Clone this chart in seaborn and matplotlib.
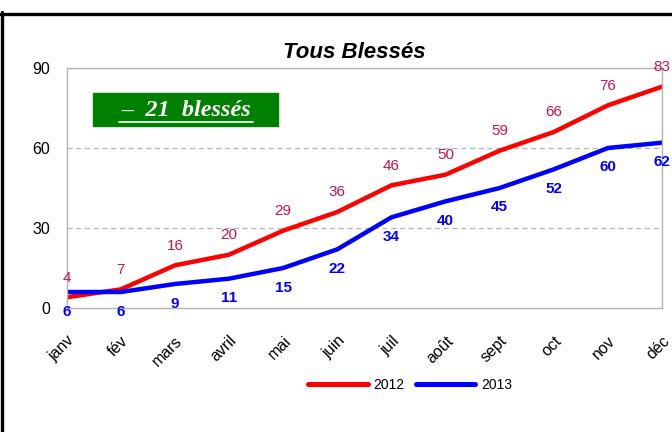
import pandas as pd
import seaborn as sns
import matplotlib.pyplot as plt
from matplotlib.lines import Line2D
from matplotlib.patches import Rectangle

# data
mois = ['janv', 'fév', 'mars', 'avril', 'mai', 'juin', 'juil', 'août', 'sept', 'oct', 'nov', 'déc']
blesses_2012 = [4, 7, 16, 20, 29, 36, 46, 50, 59, 66, 76, 83]
blesses_2013 = [6, 6, 9, 11, 15, 22, 34, 40, 45, 52, 60, 62]
annees = ['2012', '2013']
couleurs = ['#ff0000', '#0000ff']
yticks = [0, 30, 60, 90]

df = pd.DataFrame({
    'mois': list(range(len(mois))) * 2,
    'valeur': blesses_2012 + blesses_2013,
    'annee': [annees[0]] * len(mois) + [annees[1]] * len(mois),
})

sns.set_style('white')
plt.rcParams['font.family'] = ['Liberation Sans', 'DejaVu Sans']
plt.rcParams['text.color'] = 'black'
plt.rcParams['xtick.labelcolor'] = 'black'
plt.rcParams['ytick.labelcolor'] = 'black'

fig = plt.figure(figsize=(6.72, 4.32), dpi=100)
ax = fig.add_axes([66.7 / 672, 1 - 308 / 432, (662 - 66.7) / 672, 240 / 432])

sns.lineplot(data=df, x='mois', y='valeur', hue='annee', palette=couleurs,
             linewidth=3.2, ax=ax, legend=False)

ax.set_xlim(0, len(mois) - 1)
ax.set_ylim(0, 90)
ax.set_yticks(yticks)
ax.set_xticks(range(len(mois)))
ax.set_xticklabels(mois, rotation=45, ha='right', rotation_mode='anchor', fontsize=11.5)
ax.tick_params(axis='y', labelsize=11.5, length=8, color='#b3b3b3', pad=4)
ax.tick_params(axis='x', length=8, color='#b3b3b3', pad=10)
ax.set_xlabel('')
ax.set_ylabel('')
for v in yticks[1:-1]:
    ax.axhline(v, color='#b3b3b3', lw=0.9, ls=(0, (4, 3)), zorder=0)
for s in ax.spines.values():
    s.set_color('#b3b3b3')
    s.set_linewidth(1.0)

# value labels
for i, v in enumerate(blesses_2012):
    ax.annotate(str(v), (i, v), xytext=(0, 9), textcoords='offset points',
                ha='center', va='bottom', color='#c8144c', fontsize=11)
for i, v in enumerate(blesses_2013):
    ax.annotate(str(v), (i, v), xytext=(0, -9), textcoords='offset points',
                ha='center', va='top', color='#0000ff', fontsize=11, fontweight='bold')

# legend
handles = [Line2D([], [], color=c, lw=3.6) for c in couleurs]
fig.legend(handles, annees, loc='center', bbox_to_anchor=(410 / 672, 1 - 385 / 432),
           ncol=2, frameon=False, fontsize=10, handlelength=4.3, columnspacing=0.8,
           handletextpad=0.4)

# title
fig.text(354 / 672, 1 - 52 / 432, 'Tous Blessés', ha='center', va='center',
         fontsize=16, fontweight='bold', fontstyle='italic')

# green box
fig.patches.append(Rectangle((93 / 672, 1 - 126 / 432), 185 / 672, 33 / 432,
                             transform=fig.transFigure, color='#008000', zorder=5))
fig.text(186 / 672, 1 - 110 / 432, '–  21  blessés', ha='center', va='center',
         color='white', fontsize=17.5, fontweight='bold', fontstyle='italic',
         family=['Liberation Serif', 'DejaVu Serif'], zorder=6)
fig.lines.append(Line2D([119 / 672, 253 / 672], [1 - 122 / 432, 1 - 122 / 432],
                        transform=fig.transFigure, color='white', lw=1.2, zorder=6))

# black frame
fig.lines.append(Line2D([0, 1], [1 - 13.5 / 432] * 2, transform=fig.transFigure,
                        color='black', lw=2.4))
fig.lines.append(Line2D([1.5 / 672] * 2, [0, 1 - 12 / 432], transform=fig.transFigure,
                        color='black', lw=2.4))

fig.savefig('out.png', dpi=100)
